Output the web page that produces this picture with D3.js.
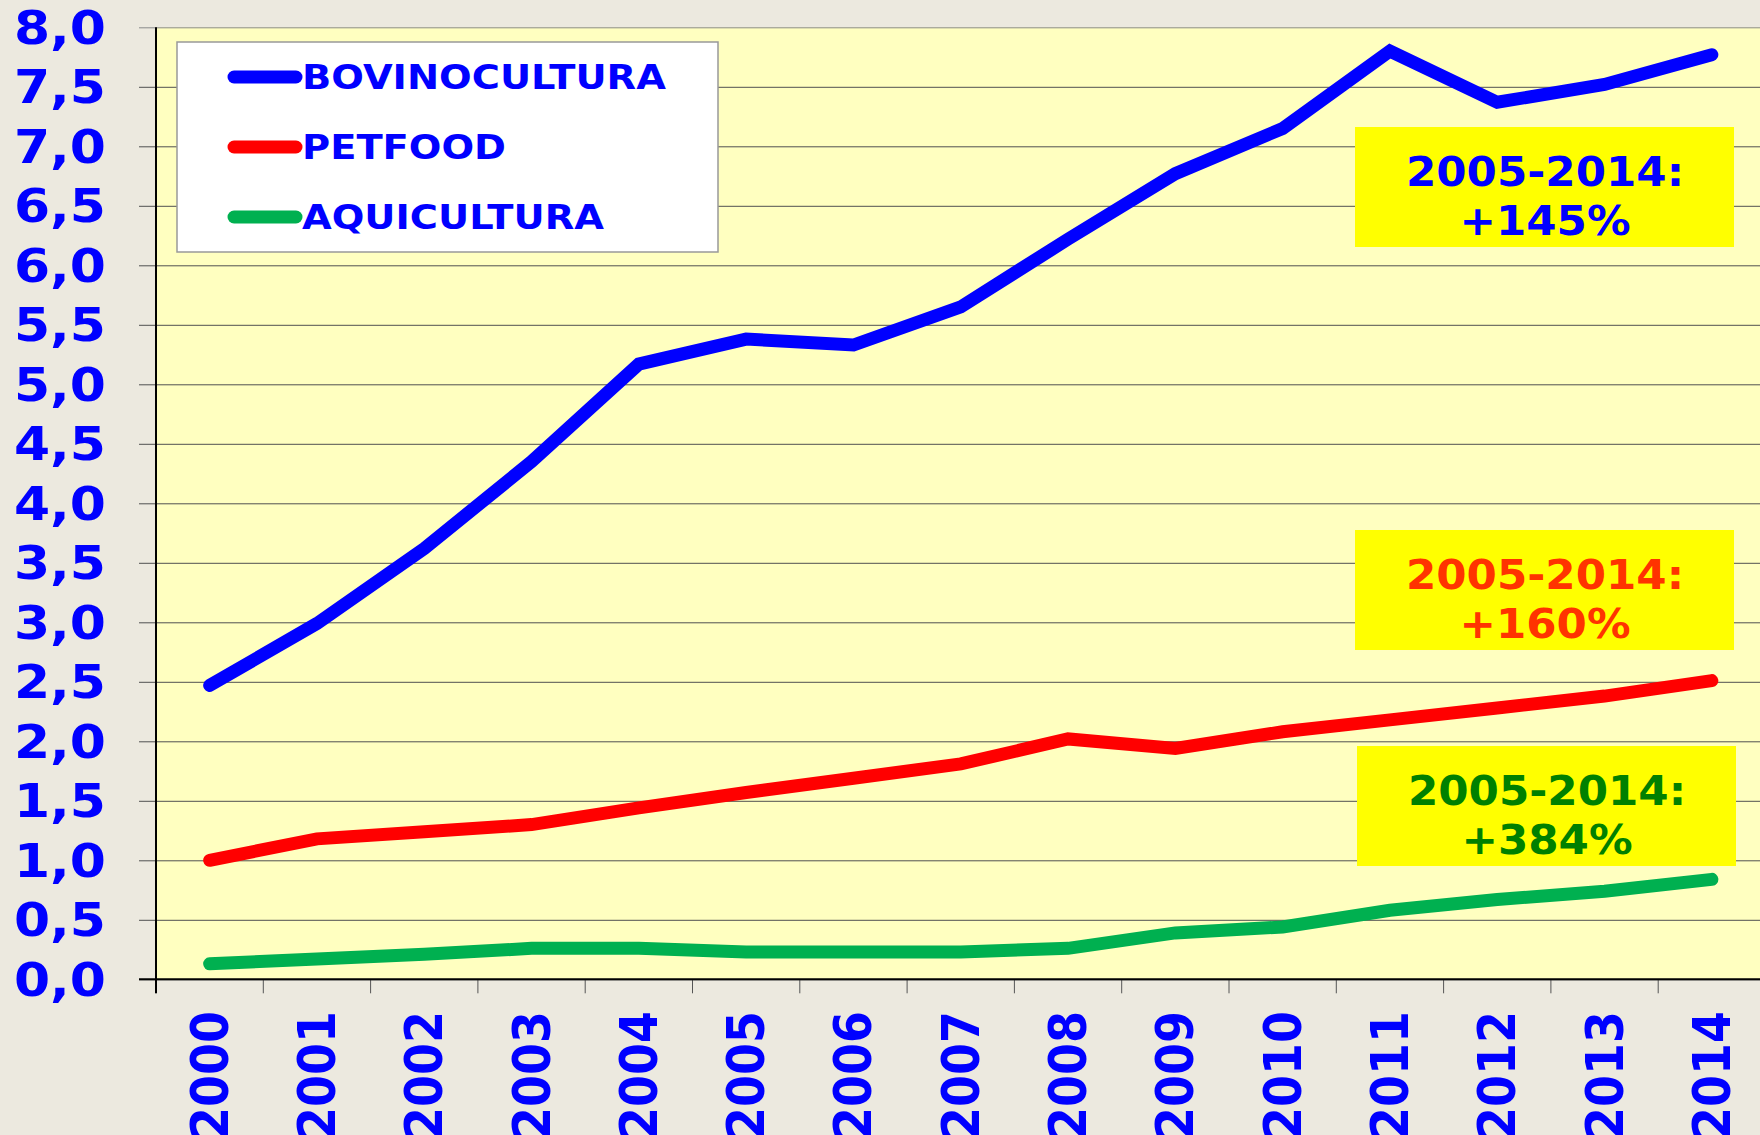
<!DOCTYPE html>
<html>
<head>
    <title>Bovinocultura, Petfood, Aquicultura</title>
    <script src="https://d3js.org/d3.v7.min.js"></script>
    <style>
        body { margin: 0; background: #ECE9DF; }
        text { font-family: "DejaVu Sans", Verdana, sans-serif; font-weight: bold; }
    </style>
</head>
<body>
    <div id="chart"></div>
    <script>
    // chart data
    let years = ["2000", "2001", "2002", "2003", "2004", "2005", "2006", "2007",
                 "2008", "2009", "2010", "2011", "2012", "2013", "2014"];
    let bovino  = [2.47, 2.99, 3.62, 4.35, 5.17, 5.38, 5.33, 5.65, 6.22, 6.77, 7.15, 7.80, 7.37, 7.52, 7.77];
    let petfood = [1.00, 1.18, 1.24, 1.30, 1.44, 1.57, 1.69, 1.81, 2.02, 1.94, 2.08, 2.18, 2.28, 2.38, 2.51];
    let aqui    = [0.13, 0.17, 0.21, 0.26, 0.26, 0.23, 0.23, 0.23, 0.26, 0.39, 0.44, 0.58, 0.67, 0.74, 0.84];
    let seriesNames = ["BOVINOCULTURA", "PETFOOD", "AQUICULTURA"];
    let yTicks = [0, 0.5, 1, 1.5, 2, 2.5, 3, 3.5, 4, 4.5, 5, 5.5, 6, 6.5, 7, 7.5, 8];
    let notes = ["+145%", "+160%", "+384%"];
    let notePeriod = "2005-2014:";

    let width = 1760,
        height = 1135;

    let plotLeft = 156, plotTop = 27.3, plotBottom = 979.3, plotRight = 1765.5;

    let svg = d3.select("#chart")
        .append("svg")
        .attr("width", width)
        .attr("height", height);

    svg.append("rect")
        .attr("width", width)
        .attr("height", height)
        .attr("fill", "#ECE9DF");

    let x = d3.scaleBand()
        .domain(years)
        .range([plotLeft, plotRight])
        .padding(0);

    let y = d3.scaleLinear()
        .domain([0, 8])
        .range([plotBottom, plotTop]);

    let cx = d => x(d) + x.bandwidth() / 2;

    // plot area
    svg.append("rect")
        .attr("x", plotLeft)
        .attr("y", plotTop)
        .attr("width", plotRight - plotLeft)
        .attr("height", plotBottom - plotTop)
        .attr("fill", "#FFFFC0");

    // gridlines + y ticks
    svg.append("g")
        .attr("transform", `translate(${plotLeft},0)`)
        .call(d3.axisLeft(y).tickValues(yTicks).tickSize(17).tickFormat(""))
        .call(g => g.select(".domain").remove())
        .call(g => g.selectAll(".tick line")
            .attr("stroke", d => d === 8 ? "#8a8a8a" : "#505050")
            .clone()
            .attr("x1", 0)
            .attr("x2", plotRight - plotLeft));

    // y labels (stretched a bit, the original font is wider)
    svg.append("g")
        .selectAll("text")
        .data(yTicks)
        .enter()
        .append("text")
        .attr("transform", d => `translate(106,${y(d)}) scale(1.13,1)`)
        .attr("dy", "0.36em")
        .attr("text-anchor", "end")
        .attr("font-size", 46)
        .attr("fill", "#0000FF")
        .text(d => d.toFixed(1).replace(".", ","));

    // x ticks at band edges
    svg.append("g")
        .selectAll("line")
        .data(years)
        .enter()
        .append("line")
        .attr("x1", d => x(d))
        .attr("x2", d => x(d))
        .attr("y1", plotBottom)
        .attr("y2", plotBottom + 14)
        .attr("stroke", "#555");

    // axes lines
    svg.append("line")
        .attr("x1", plotLeft).attr("x2", plotLeft)
        .attr("y1", plotTop).attr("y2", plotBottom + 14)
        .attr("stroke", "#000").attr("stroke-width", 2);
    svg.append("line")
        .attr("x1", plotLeft - 17).attr("x2", plotRight)
        .attr("y1", plotBottom).attr("y2", plotBottom)
        .attr("stroke", "#000").attr("stroke-width", 2);

    // x labels, rotated
    svg.append("g")
        .selectAll("text")
        .data(years)
        .enter()
        .append("text")
        .attr("transform", d => `translate(${cx(d) + 18},1011) rotate(-90) scale(1,1.12)`)
        .attr("text-anchor", "end")
        .attr("font-size", 46)
        .attr("fill", "#0000FF")
        .text(d => d);

    // lines
    let colors = ["#0000FF", "#FF0000", "#00B050"];
    let allSeries = [bovino, petfood, aqui];

    let line = d3.line()
        .x((d, i) => cx(years[i]))
        .y(d => y(d));

    svg.append("g")
        .selectAll("path")
        .data(allSeries.slice().reverse())
        .enter()
        .append("path")
        .attr("d", line)
        .attr("fill", "none")
        .attr("stroke", (d, i) => colors[2 - i])
        .attr("stroke-width", 13)
        .attr("stroke-linecap", "round")
        .attr("stroke-linejoin", "miter");

    // legend
    let legend = svg.append("g");
    legend.append("rect")
        .attr("x", 177).attr("y", 42)
        .attr("width", 541).attr("height", 210)
        .attr("fill", "#fff")
        .attr("stroke", "#999").attr("stroke-width", 1.5);

    let legendY = [77, 147, 217];
    seriesNames.forEach(function(name, i) {
        legend.append("line")
            .attr("x1", 234).attr("x2", 296)
            .attr("y1", legendY[i]).attr("y2", legendY[i])
            .attr("stroke", colors[i])
            .attr("stroke-width", 13)
            .attr("stroke-linecap", "round");
        legend.append("text")
            .attr("transform", `translate(302,${legendY[i]}) scale(1.13,1)`)
            .attr("dy", "0.36em")
            .attr("font-size", 34)
            .attr("fill", "#0000FF")
            .text(name);
    });

    // annotation boxes
    let noteBoxes = [
        { x: 1355, y: 127 },
        { x: 1355, y: 530 },
        { x: 1357, y: 746 }
    ];
    let noteColors = ["#0000FF", "#FF3300", "#008000"];

    noteBoxes.forEach(function(b, i) {
        let g = svg.append("g").attr("transform", `translate(${b.x},${b.y})`);
        g.append("rect")
            .attr("width", 379).attr("height", 120)
            .attr("fill", "#FFFF00");
        g.append("text")
            .attr("transform", "translate(190,58.5) scale(1.09,1)")
            .attr("text-anchor", "middle")
            .attr("font-size", 40)
            .attr("fill", noteColors[i])
            .text(notePeriod);
        g.append("text")
            .attr("transform", "translate(190,107.5) scale(1.09,1)")
            .attr("text-anchor", "middle")
            .attr("font-size", 40)
            .attr("fill", noteColors[i])
            .text(notes[i]);
    });
    </script>
</body>
</html>
